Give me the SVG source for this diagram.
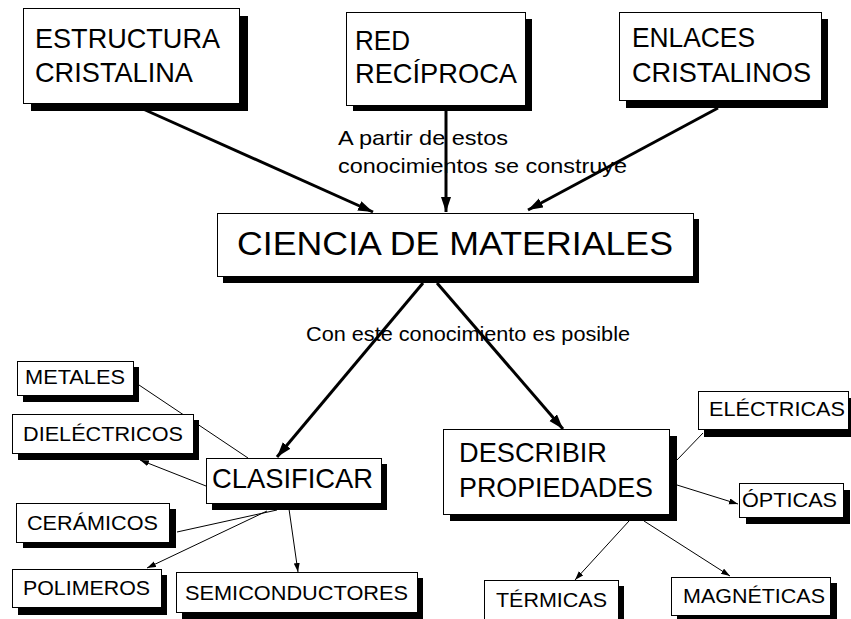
<svg xmlns="http://www.w3.org/2000/svg" width="851" height="619" viewBox="0 0 851 619">
<style>
.shadow{fill:#000}
.box{fill:#fff;stroke:#000;stroke-width:1}
text{font-family:"Liberation Sans",Arial,sans-serif;fill:#000}
.big{font-size:28px}
.huge{font-size:33px}
.small{font-size:20px}
.lbl{font-size:21px}
.thick{stroke:#000;stroke-width:3;fill:none}
.thin{stroke:#000;stroke-width:1;fill:none}
</style>
<defs>
<marker id="ah" markerUnits="userSpaceOnUse" markerWidth="16" markerHeight="12" refX="15" refY="5" orient="auto">
<path d="M0,0 L15,5 L0,10 Z" fill="#000"/>
</marker>
<marker id="ahs" markerUnits="userSpaceOnUse" markerWidth="10" markerHeight="8" refX="9" refY="3" orient="auto">
<path d="M0,0 L9,3 L0,6 Z" fill="#000"/>
</marker>
</defs>
<rect width="851" height="619" fill="#fff"/>

<g id="connectors">
<line class="thick" x1="143" y1="109" x2="373" y2="212" marker-end="url(#ah)"/>
<line class="thick" x1="446" y1="111" x2="446" y2="212" marker-end="url(#ah)"/>
<line class="thick" x1="718" y1="108" x2="528" y2="210" marker-end="url(#ah)"/>
<line class="thick" x1="423" y1="283" x2="277" y2="457" marker-end="url(#ah)"/>
<line class="thick" x1="437" y1="283" x2="563" y2="429" marker-end="url(#ah)"/>
<line class="thin" x1="139" y1="385" x2="248" y2="458"/>
<line class="thin" x1="206" y1="486" x2="140" y2="460" marker-end="url(#ahs)"/>
<line class="thin" x1="277" y1="510" x2="177" y2="532"/>
<line class="thin" x1="267" y1="511" x2="147" y2="568" marker-end="url(#ahs)"/>
<line class="thin" x1="289" y1="509" x2="298" y2="572" marker-end="url(#ahs)"/>
<line class="thin" x1="677" y1="460" x2="703" y2="433"/>
<line class="thin" x1="677" y1="485" x2="738" y2="504" marker-end="url(#ahs)"/>
<line class="thin" x1="629" y1="521" x2="575" y2="580" marker-end="url(#ahs)"/>
<line class="thin" x1="644" y1="521" x2="730" y2="576" marker-end="url(#ahs)"/>
</g>

<g id="labels">
<text class="lbl" x="338" y="145" textLength="170" lengthAdjust="spacingAndGlyphs">A partir de estos</text>
<text class="lbl" x="338" y="173" textLength="289" lengthAdjust="spacingAndGlyphs">conocimientos se construye</text>
<text class="lbl" x="306" y="341" textLength="324" lengthAdjust="spacingAndGlyphs">Con este conocimiento es posible</text>
</g>

<g id="estructura">
<rect class="shadow" x="31" y="16" width="217" height="95"/>
<rect class="box" x="23.5" y="8.5" width="216" height="95"/>
<text class="big" x="35" y="48" textLength="185" lengthAdjust="spacingAndGlyphs">ESTRUCTURA</text>
<text class="big" x="35" y="82" textLength="158" lengthAdjust="spacingAndGlyphs">CRISTALINA</text>
</g>

<g id="red">
<rect class="shadow" x="353" y="19" width="179" height="92"/>
<rect class="box" x="346.5" y="12.5" width="179" height="93"/>
<text class="big" x="355" y="50" textLength="55" lengthAdjust="spacingAndGlyphs">RED</text>
<text class="big" x="355" y="83" textLength="162" lengthAdjust="spacingAndGlyphs">RECÍPROCA</text>
</g>

<g id="enlaces">
<rect class="shadow" x="626" y="19" width="202" height="89"/>
<rect class="box" x="619.5" y="12.5" width="202" height="88"/>
<text class="big" x="632" y="47" textLength="123" lengthAdjust="spacingAndGlyphs">ENLACES</text>
<text class="big" x="632" y="82" textLength="179" lengthAdjust="spacingAndGlyphs">CRISTALINOS</text>
</g>

<g id="ciencia">
<rect class="shadow" x="223" y="219" width="476" height="64"/>
<rect class="box" x="217.5" y="213.5" width="476" height="63"/>
<text class="huge" x="237" y="255" textLength="436" lengthAdjust="spacingAndGlyphs">CIENCIA DE MATERIALES</text>
</g>

<g id="clasificar">
<rect class="shadow" x="212" y="464" width="175" height="46"/>
<rect class="box" x="206.5" y="458.5" width="175" height="45"/>
<text class="big" x="212" y="488" textLength="161" lengthAdjust="spacingAndGlyphs">CLASIFICAR</text>
</g>

<g id="metales">
<rect class="shadow" x="23" y="367" width="116" height="35"/>
<rect class="box" x="17.5" y="361.5" width="116" height="34"/>
<text class="small" x="25" y="384" textLength="100" lengthAdjust="spacingAndGlyphs">METALES</text>
</g>

<g id="dielectricos">
<rect class="shadow" x="18" y="420" width="181" height="40"/>
<rect class="box" x="12.5" y="414.5" width="181" height="39"/>
<text class="small" x="23" y="441" textLength="160" lengthAdjust="spacingAndGlyphs">DIELÉCTRICOS</text>
</g>

<g id="ceramicos">
<rect class="shadow" x="23" y="509" width="153" height="39"/>
<rect class="box" x="16.5" y="503.5" width="153" height="39"/>
<text class="small" x="27" y="530" textLength="131" lengthAdjust="spacingAndGlyphs">CERÁMICOS</text>
</g>

<g id="polimeros">
<rect class="shadow" x="18" y="575" width="149" height="40"/>
<rect class="box" x="12.5" y="569.5" width="149" height="38"/>
<text class="small" x="23" y="595" textLength="127" lengthAdjust="spacingAndGlyphs">POLIMEROS</text>
</g>

<g id="semiconductores">
<rect class="shadow" x="182" y="578" width="241" height="41"/>
<rect class="box" x="176.5" y="572.5" width="241" height="40"/>
<text class="small" x="185" y="600" textLength="223" lengthAdjust="spacingAndGlyphs">SEMICONDUCTORES</text>
</g>

<g id="describir">
<rect class="shadow" x="450" y="436" width="227" height="85"/>
<rect class="box" x="443.5" y="429.5" width="226" height="85"/>
<text class="big" x="459" y="462" textLength="148" lengthAdjust="spacingAndGlyphs">DESCRIBIR</text>
<text class="big" x="459" y="497" textLength="194" lengthAdjust="spacingAndGlyphs">PROPIEDADES</text>
</g>

<g id="electricas">
<rect class="shadow" x="704" y="398" width="151" height="39"/>
<rect class="box" x="698.5" y="391.5" width="150" height="38"/>
<text class="small" x="709" y="416" textLength="136" lengthAdjust="spacingAndGlyphs">ELÉCTRICAS</text>
</g>

<g id="opticas">
<rect class="shadow" x="746" y="490" width="104" height="34"/>
<rect class="box" x="739.5" y="483.5" width="104" height="34"/>
<text class="small" x="742" y="507" textLength="95" lengthAdjust="spacingAndGlyphs">ÓPTICAS</text>
</g>

<g id="termicas">
<rect class="shadow" x="490" y="586" width="134" height="40"/>
<rect class="box" x="484.5" y="580.5" width="134" height="45"/>
<text class="small" x="496" y="607" textLength="111" lengthAdjust="spacingAndGlyphs">TÉRMICAS</text>
</g>

<g id="magneticas">
<rect class="shadow" x="677" y="583" width="160" height="40"/>
<rect class="box" x="671.5" y="577.5" width="159" height="38"/>
<text class="small" x="683" y="603" textLength="142" lengthAdjust="spacingAndGlyphs">MAGNÉTICAS</text>
</g>
</svg>
